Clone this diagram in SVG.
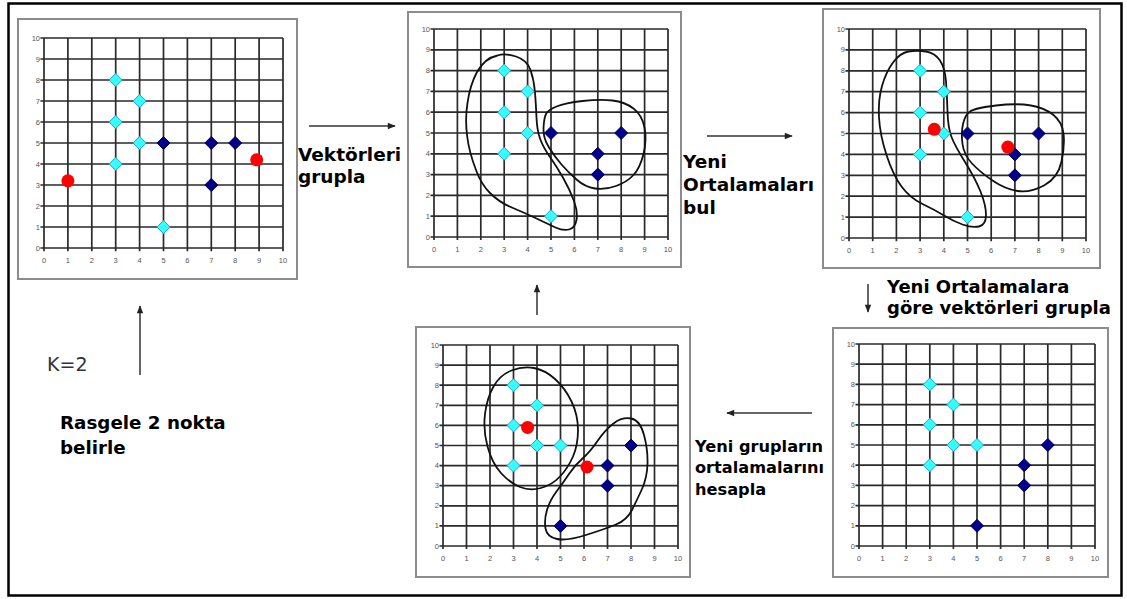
<svg xmlns="http://www.w3.org/2000/svg" xmlns:xlink="http://www.w3.org/1999/xlink" width="1127" height="599" viewBox="0 0 1127 599">
<style>
.frame{fill:#fff;stroke:#8c8c8c;stroke-width:2}
.gl{fill:none;stroke:#2a2a2a;stroke-width:1.7;vector-effect:non-scaling-stroke}
.tk{font-family:"Liberation Sans",Arial,sans-serif;font-size:7.5px;fill:#555}
.ty{text-anchor:end}
.tx{text-anchor:middle}
.blob{fill:none;stroke:#111;stroke-width:1.8;stroke-linejoin:round}
.lbl{font-family:"DejaVu Sans",Verdana,sans-serif;font-weight:bold;fill:#000}
.arr{stroke:#333;stroke-width:1.5;fill:none;marker-end:url(#ah)}
.red{fill:#ff0000}
</style>
<defs>
<marker id="ah" viewBox="0 0 10 10" refX="9" refY="5" markerWidth="9" markerHeight="8" markerUnits="userSpaceOnUse" orient="auto"><path d="M0,1 L10,5 L0,9 Z" fill="#222"/></marker>
<path id="grid" class="gl" d="M-0.15 0H10M-0.15 1H10M-0.15 2H10M-0.15 3H10M-0.15 4H10M-0.15 5H10M-0.15 6H10M-0.15 7H10M-0.15 8H10M-0.15 9H10M-0.15 10H10M0 -0.15V10M1 -0.15V10M2 -0.15V10M3 -0.15V10M4 -0.15V10M5 -0.15V10M6 -0.15V10M7 -0.15V10M8 -0.15V10M9 -0.15V10M10 -0.15V10"/>
<path id="dc" d="M0,-6.5 L6.5,0 L0,6.5 L-6.5,0Z" fill="#33ffff" stroke="#2a9fd6" stroke-width="1"/>
<path id="dn" d="M0,-6.5 L6.5,0 L0,6.5 L-6.5,0Z" fill="#00008b" stroke="#000060" stroke-width="1"/>
</defs>
<rect x="0" y="0" width="1127" height="599" fill="#fff"/>
<rect x="8.5" y="3.5" width="1113" height="592" fill="none" stroke="#000" stroke-width="2.5"/>

<g id="panel1">
<rect class="frame" x="18" y="19" width="279" height="260"/>
<use href="#grid" transform="translate(44 248) scale(23.9 -21)"/>
<g class="tk ty">
<text x="40" y="40.5">10</text><text x="40" y="61.5">9</text><text x="40" y="82.5">8</text><text x="40" y="103.5">7</text><text x="40" y="124.5">6</text><text x="40" y="145.5">5</text><text x="40" y="166.5">4</text><text x="40" y="187.5">3</text><text x="40" y="208.5">2</text><text x="40" y="229.5">1</text><text x="40" y="250.5">0</text>
</g>
<g class="tk tx">
<text x="44" y="263">0</text><text x="67.9" y="263">1</text><text x="91.8" y="263">2</text><text x="115.7" y="263">3</text><text x="139.6" y="263">4</text><text x="163.5" y="263">5</text><text x="187.4" y="263">6</text><text x="211.3" y="263">7</text><text x="235.2" y="263">8</text><text x="259.1" y="263">9</text><text x="283" y="263">10</text>
</g>
<use href="#dc" x="115.7" y="80"/><use href="#dc" x="139.6" y="101"/><use href="#dc" x="115.7" y="122"/><use href="#dc" x="139.6" y="143"/><use href="#dc" x="115.7" y="164"/><use href="#dc" x="163.5" y="227"/>
<use href="#dn" x="163.5" y="143"/><use href="#dn" x="211.3" y="143"/><use href="#dn" x="235.2" y="143"/><use href="#dn" x="211.3" y="185"/>
<circle class="red" cx="67.9" cy="180.8" r="6.5"/><circle class="red" cx="256.7" cy="159.8" r="6.5"/>
</g>

<g id="panel2">
<rect class="frame" x="408" y="12" width="273" height="255"/>
<use href="#grid" transform="translate(434 237) scale(23.4 -20.8)"/>
<g class="tk ty">
<text x="430" y="31.5">10</text><text x="430" y="52.3">9</text><text x="430" y="73.1">8</text><text x="430" y="93.9">7</text><text x="430" y="114.7">6</text><text x="430" y="135.5">5</text><text x="430" y="156.3">4</text><text x="430" y="177.1">3</text><text x="430" y="197.9">2</text><text x="430" y="218.7">1</text><text x="430" y="239.5">0</text>
</g>
<g class="tk tx">
<text x="434" y="252">0</text><text x="457.4" y="252">1</text><text x="480.8" y="252">2</text><text x="504.2" y="252">3</text><text x="527.6" y="252">4</text><text x="551" y="252">5</text><text x="574.4" y="252">6</text><text x="597.8" y="252">7</text><text x="621.2" y="252">8</text><text x="644.6" y="252">9</text><text x="668" y="252">10</text>
</g>
<path class="blob" d="M 497.5,55.5 Q 505,53 516,56.5 Q 527,60 530.5,70 Q 534,80 535,92.5 Q 536,105 536.5,117.5 Q 537,130 540,138.5 Q 543,147 550,157 Q 557,167 563.5,178.5 Q 570,190 574,201 Q 578,212 576.5,220 Q 575,228 569,229.5 Q 563,231 555.5,227.5 Q 548,224 536.5,218.5 Q 525,213 513,208 Q 500,203 490,193 Q 481,184 476,170 Q 469,152 467,135 Q 465,118 467.5,103 Q 470,85 477,72 Q 485,58 497.5,55.5 Z"/>
<path class="blob" d="M 546,114 Q 548,110 556.5,106.5 Q 565,103 582.5,101 Q 600,99 612.5,100.5 Q 625,102 633.5,108.5 Q 642,115 644.5,127.5 Q 647,140 643.5,154 Q 640,168 633.5,175 Q 627,182 616,186 Q 605,190 595,188.5 Q 585,187 576.5,179.5 Q 568,172 561.5,164.5 Q 555,157 549,147.5 Q 543,138 543.5,128 Q 544,118 546,114 Z"/>
<use href="#dc" x="504.2" y="70.6"/><use href="#dc" x="527.6" y="91.4"/><use href="#dc" x="504.2" y="112.2"/><use href="#dc" x="527.6" y="133"/><use href="#dc" x="504.2" y="153.8"/><use href="#dc" x="551" y="216.2"/>
<use href="#dn" x="551" y="133"/><use href="#dn" x="597.8" y="153.8"/><use href="#dn" x="597.8" y="174.6"/><use href="#dn" x="621.2" y="133"/>
</g>

<g id="panel3">
<rect class="frame" x="823" y="9" width="277" height="259"/>
<use href="#grid" transform="translate(849 238) scale(23.7 -20.9)"/>
<g class="tk ty">
<text x="845" y="31.5">10</text><text x="845" y="52.4">9</text><text x="845" y="73.3">8</text><text x="845" y="94.2">7</text><text x="845" y="115.1">6</text><text x="845" y="136">5</text><text x="845" y="156.9">4</text><text x="845" y="177.8">3</text><text x="845" y="198.7">2</text><text x="845" y="219.6">1</text><text x="845" y="240.5">0</text>
</g>
<g class="tk tx">
<text x="849" y="253">0</text><text x="872.7" y="253">1</text><text x="896.4" y="253">2</text><text x="920.1" y="253">3</text><text x="943.8" y="253">4</text><text x="967.5" y="253">5</text><text x="991.2" y="253">6</text><text x="1014.9" y="253">7</text><text x="1038.6" y="253">8</text><text x="1062.3" y="253">9</text><text x="1086" y="253">10</text>
</g>
<path class="blob" d="M 908.5,51.5 Q 917,50 926,51.5 Q 935,53 940,60.5 Q 945,68 946,81.5 Q 947,95 947.5,111.5 Q 948,128 951.5,137 Q 955,146 965,162 Q 975,178 980.5,191.5 Q 986,205 986,215 Q 986,225 979,226.5 Q 972,228 962.5,224.5 Q 953,221 944,215.5 Q 935,210 922.5,204 Q 910,198 901.5,186.5 Q 893,175 886.5,155 Q 880,135 879,117.5 Q 878,100 882,86 Q 886,72 893,62.5 Q 900,53 908.5,51.5 Z"/>
<path class="blob" d="M 963,124 Q 965,115 970,111.5 Q 975,108 996,105.5 Q 1017,103 1031,105.5 Q 1045,108 1053.5,115 Q 1062,122 1063.5,133.5 Q 1065,145 1061.5,161.5 Q 1058,178 1044,185.5 Q 1030,193 1017.5,191 Q 1005,189 992.5,180.5 Q 980,172 972,163.5 Q 964,155 962.5,144 Q 961,133 963,124 Z"/>
<use href="#dc" x="920.1" y="70.8"/><use href="#dc" x="943.8" y="91.7"/><use href="#dc" x="920.1" y="112.6"/><use href="#dc" x="943.8" y="133.5"/><use href="#dc" x="920.1" y="154.4"/><use href="#dc" x="967.5" y="217.1"/>
<use href="#dn" x="967.5" y="133.5"/><use href="#dn" x="1014.9" y="154.4"/><use href="#dn" x="1014.9" y="175.3"/><use href="#dn" x="1038.6" y="133.5"/>
<circle class="red" cx="934.3" cy="129.3" r="6.5"/><circle class="red" cx="1007.8" cy="147.1" r="6.5"/>
</g>

<g id="panel4">
<rect class="frame" x="416" y="327" width="274" height="250"/>
<use href="#grid" transform="translate(443 546) scale(23.5 -20.1)"/>
<g class="tk ty">
<text x="439" y="347.5">10</text><text x="439" y="367.6">9</text><text x="439" y="387.7">8</text><text x="439" y="407.8">7</text><text x="439" y="427.9">6</text><text x="439" y="448">5</text><text x="439" y="468.1">4</text><text x="439" y="488.2">3</text><text x="439" y="508.3">2</text><text x="439" y="528.4">1</text><text x="439" y="548.5">0</text>
</g>
<g class="tk tx">
<text x="443" y="561">0</text><text x="466.5" y="561">1</text><text x="490" y="561">2</text><text x="513.5" y="561">3</text><text x="537" y="561">4</text><text x="560.5" y="561">5</text><text x="584" y="561">6</text><text x="607.5" y="561">7</text><text x="631" y="561">8</text><text x="654.5" y="561">9</text><text x="678" y="561">10</text>
</g>
<path class="blob" d="M 511.5,370.5 Q 523,366 534,368 Q 545,370 555,379 Q 565,388 571.5,401.5 Q 578,415 578,430 Q 578,445 573,456.5 Q 568,468 560,476.5 Q 552,485 541,488 Q 530,491 520,487 Q 510,483 501,473 Q 492,463 487.5,446.5 Q 483,430 485,414 Q 487,398 493.5,386.5 Q 500,375 511.5,370.5 Z"/>
<path class="blob" d="M 613.5,423.5 Q 622,417 631,418.5 Q 640,420 644,435 Q 648,450 647.5,464 Q 647,478 642,489 Q 637,500 632,510 Q 627,520 616,524.5 Q 605,529 586,535 Q 567,541 557,539 Q 547,537 545.5,528.5 Q 544,520 547,510 Q 550,500 556.5,491.5 Q 563,483 569,474 Q 575,465 582.5,458.5 Q 590,452 597.5,441 Q 605,430 613.5,423.5 Z"/>
<use href="#dc" x="513.5" y="385.2"/><use href="#dc" x="537" y="405.3"/><use href="#dc" x="513.5" y="425.4"/><use href="#dc" x="537" y="445.5"/><use href="#dc" x="560.5" y="445.5"/><use href="#dc" x="513.5" y="465.6"/>
<use href="#dn" x="631" y="445.5"/><use href="#dn" x="607.5" y="465.6"/><use href="#dn" x="607.5" y="485.7"/><use href="#dn" x="560.5" y="525.9"/>
<circle class="red" cx="527.6" cy="427.4" r="6.5"/><circle class="red" cx="587" cy="467" r="6.5"/>
</g>

<g id="panel5">
<rect class="frame" x="833" y="328" width="275" height="249"/>
<use href="#grid" transform="translate(859 546) scale(23.6 -20.2)"/>
<g class="tk ty">
<text x="855" y="346.5">10</text><text x="855" y="366.7">9</text><text x="855" y="386.9">8</text><text x="855" y="407.1">7</text><text x="855" y="427.3">6</text><text x="855" y="447.5">5</text><text x="855" y="467.7">4</text><text x="855" y="487.9">3</text><text x="855" y="508.1">2</text><text x="855" y="528.3">1</text><text x="855" y="548.5">0</text>
</g>
<g class="tk tx">
<text x="859" y="561">0</text><text x="882.6" y="561">1</text><text x="906.2" y="561">2</text><text x="929.8" y="561">3</text><text x="953.4" y="561">4</text><text x="977" y="561">5</text><text x="1000.6" y="561">6</text><text x="1024.2" y="561">7</text><text x="1047.8" y="561">8</text><text x="1071.4" y="561">9</text><text x="1095" y="561">10</text>
</g>
<use href="#dc" x="929.8" y="384.4"/><use href="#dc" x="953.4" y="404.6"/><use href="#dc" x="929.8" y="424.8"/><use href="#dc" x="953.4" y="445"/><use href="#dc" x="977" y="445"/><use href="#dc" x="929.8" y="465.2"/>
<use href="#dn" x="1047.8" y="445"/><use href="#dn" x="1024.2" y="465.2"/><use href="#dn" x="1024.2" y="485.4"/><use href="#dn" x="977" y="525.8"/>
</g>

<g id="connectors">
<line class="arr" x1="309" y1="126" x2="395" y2="126"/>
<line class="arr" x1="707" y1="136" x2="792" y2="136"/>
<line class="arr" x1="868" y1="284" x2="868" y2="312"/>
<line class="arr" x1="812" y1="413" x2="727" y2="413"/>
<line class="arr" x1="537" y1="315" x2="537" y2="285"/>
<line class="arr" x1="140" y1="375" x2="140" y2="306"/>
</g>

<g id="labels">
<text class="lbl" font-size="18.5" x="298" y="161">Vektörleri</text>
<text class="lbl" font-size="18.5" x="298" y="183">grupla</text>
<text class="lbl" font-size="18.5" x="683" y="168">Yeni</text>
<text class="lbl" font-size="18.5" x="683" y="191">Ortalamaları</text>
<text class="lbl" font-size="18.5" x="683" y="214">bul</text>
<text class="lbl" font-size="18" x="887" y="293">Yeni Ortalamalara</text>
<text class="lbl" font-size="18" x="887" y="314">göre vektörleri grupla</text>
<text class="lbl" font-size="16.2" x="695" y="452">Yeni grupların</text>
<text class="lbl" font-size="16.2" x="695" y="473">ortalamalarını</text>
<text class="lbl" font-size="16.2" x="695" y="495">hesapla</text>
<text x="47" y="371" font-family="DejaVu Sans,Verdana,sans-serif" font-size="19" fill="#333">K=2</text>
<text class="lbl" font-size="18.3" x="60" y="429">Rasgele 2 nokta</text>
<text class="lbl" font-size="18.3" x="60" y="454">belirle</text>
</g>
</svg>
